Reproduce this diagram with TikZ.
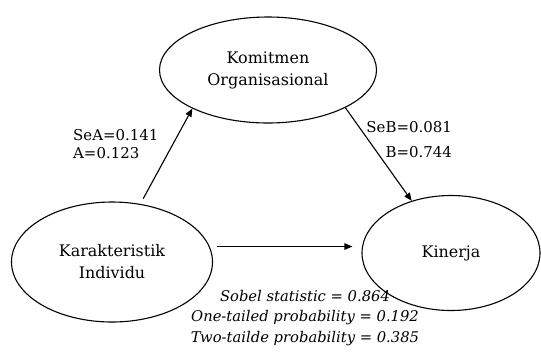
\documentclass[tikz,border=0pt]{standalone}
\usepackage{fontspec}
\setmainfont{DejaVu Serif}
\usetikzlibrary{shapes.geometric,arrows.meta,calc}
\begin{document}
\begin{tikzpicture}[x=1bp,y=-1bp,
  var/.style={ellipse,draw,line width=1.1bp,inner sep=0pt,align=center,font=\fontsize{16}{22}\selectfont},
  arr/.style={line width=1.1bp,-{Triangle[length=8bp,width=6.5bp]}},
  lab/.style={inner sep=0pt,font=\fontsize{15}{18}\selectfont}]
\useasboundingbox (0,0) rectangle (541,351);
\node[var,minimum width=217bp,minimum height=106bp] (kom) at (268,70) {Komitmen\\Organisasional};
\node[var,minimum width=201bp,minimum height=120bp] (kar) at (112,262) {Karakteristik\\Individu};
\node[var,minimum width=178bp,minimum height=115bp] (kin) at (451,253) {Kinerja};
\draw[arr,shorten <=6bp] (kar.64) -- (kom.207);
\draw[arr] (kom.334) -- (kin.127);
\draw[arr,shorten <=7bp,shorten >=9bp] (kar.9.5) -- (kar.9.5 -| kin.west);
\node[lab,align=left,anchor=west] (sea) at (73,144) {SeA=0.141\\A=0.123};
\node[lab,align=right,anchor=east,font=\fontsize{15}{25}\selectfont] (seb) at (452,140) {SeB=0.081\\B=0.744};
\node[lab,align=center,font=\itshape\fontsize{14.8}{21}\selectfont] (sob) at (305,318) {Sobel statistic = 0.864\\One-tailed probability = 0.192\\Two-tailde probability = 0.385};
\end{tikzpicture}
\end{document}
